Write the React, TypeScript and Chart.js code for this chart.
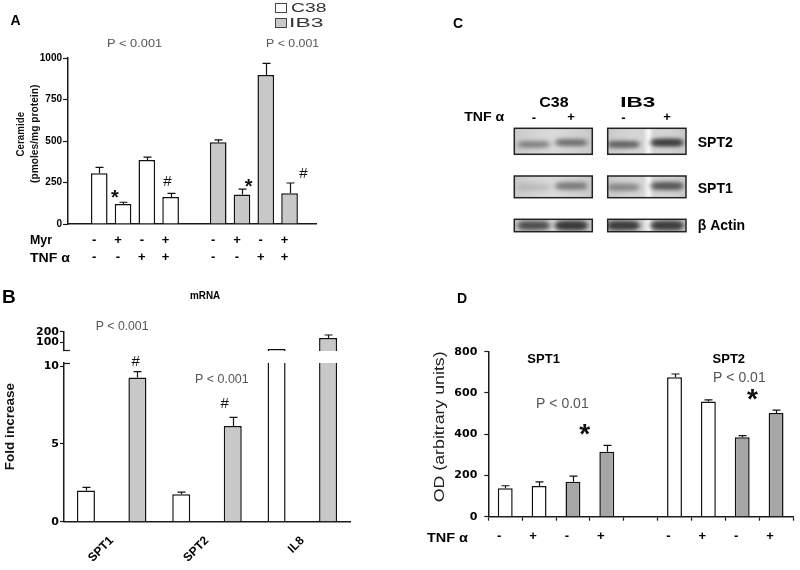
import React, { useEffect, useRef } from 'react';
import { Chart, registerables } from 'chart.js';

Chart.register(...registerables);

// ---------------- data ----------------
// Panel A: ceramide
const aCellLines = ['C38', 'IB3'];
const aMyr = ['-', '+', '-', '+'];
const aTnf = ['-', '-', '+', '+'];
const aC38 = [305, 120, 385, 162];
const aC38Err = [36, 11, 18, 23];
const aIB3 = [493, 177, 898, 185];
const aIB3Err = [14, 33, 70, 62];
const aYTicks = [0, 250, 500, 750, 1000];

// Panel B: mRNA fold increase
const bGenes = ['SPT1', 'SPT2', 'IL8'];
const bC38 = [2.0, 1.76, 37];
const bC38Err = [0.2, 0.14, 0];
const bIB3 = [9.27, 6.15, 140];
const bIB3Err = [0.37, 0.55, 29];
const bLowTicks = [0, 5, 10];
const bHighTicks = [100, 200];

// Panel C: western blot band intensities [row][lane]
const cProteins = ['SPT2', 'SPT1', 'β Actin'];
const cTnf = ['-', '+'];
const cC38Bands = [[0.32, 0.42], [0.08, 0.34], [0.6, 0.82]];
const cIB3Bands = [[0.5, 0.82], [0.28, 0.55], [0.78, 0.78]];

// Panel D: densitometry
const dProteins = ['SPT1', 'SPT2'];
const dTnf = ['-', '+', '-', '+'];
const dCells = ['C38', 'C38', 'IB3', 'IB3'];
const dSPT1 = [138, 149, 170, 315];
const dSPT1Err = [12, 20, 27, 31];
const dSPT2 = [676, 558, 385, 503];
const dSPT2Err = [16, 8, 8, 14];
const dYTicks = [0, 200, 400, 600, 800];

// ---------------- style ----------------
const SANS = '"Liberation Sans", Arial, Helvetica, sans-serif';
const WIDE = '"DejaVu Sans", Verdana, sans-serif';
const fnt = (size: number, bold = false, fam = SANS) => `${bold ? 'bold ' : ''}${size}px ${fam}`;
const AXIS = '#1a1a1a';
const WHITE = '#ffffff';
const LIGHT = '#c8c8c8';
const DARK = '#a6a6a6';
const PTXT = '#555555';

function putText(ctx: any, text: string, x: number, y: number, font: string, color = '#000', opts: any = {}) {
  ctx.save();
  ctx.font = font;
  ctx.fillStyle = color;
  ctx.textAlign = 'left';
  ctx.textBaseline = 'alphabetic';
  const m = ctx.measureText(text);
  const gw = m.actualBoundingBoxLeft + m.actualBoundingBoxRight;
  const sx = opts.w && gw > 0 ? opts.w / gw : 1;
  ctx.translate(x, y);
  if (opts.rot) ctx.rotate(opts.rot);
  ctx.scale(sx, 1);
  const x0 = opts.left ? m.actualBoundingBoxLeft : -(m.actualBoundingBoxRight - m.actualBoundingBoxLeft) / 2;
  const y0 = (m.actualBoundingBoxAscent - m.actualBoundingBoxDescent) / 2;
  ctx.fillText(text, x0, y0);
  ctx.restore();
}

const errorBars = {
  id: 'errorBars',
  afterDatasetsDraw(chart: any) {
    const ctx = chart.ctx;
    const a = chart.chartArea;
    ctx.save();
    ctx.beginPath();
    ctx.rect(a.left - 10, a.top - 1, a.right - a.left + 20, a.bottom - a.top + 1);
    ctx.clip();
    ctx.strokeStyle = '#111';
    ctx.lineWidth = 1.2;
    chart.data.datasets.forEach((ds: any, di: number) => {
      const errs = ds.errors;
      if (!errs) return;
      const meta = chart.getDatasetMeta(di);
      const yScale = chart.scales[meta.yAxisID];
      meta.data.forEach((el: any, i: number) => {
        const e = errs[i];
        const p = meta.controller.getParsed(i);
        if (!e || !p || p.y == null || isNaN(p.y)) return;
        const yTop = yScale.getPixelForValue(p.y + e);
        const x = Math.round(el.x) + 0.5;
        ctx.beginPath();
        ctx.moveTo(x, el.y);
        ctx.lineTo(x, yTop);
        ctx.moveTo(x - 4, yTop);
        ctx.lineTo(x + 4, yTop);
        ctx.stroke();
      });
    });
    ctx.restore();
  },
};

const fixY = (w: number) => (s: any) => {
  s.width = w; s.paddingTop = 0; s.paddingBottom = 0; s.paddingLeft = 0; s.paddingRight = 0;
};
const fixX = (h: number) => (s: any) => {
  s.height = h; s.paddingTop = 0; s.paddingBottom = 0; s.paddingLeft = 0; s.paddingRight = 0;
};
const setTicks = (vals: number[]) => (s: any) => {
  s.ticks = vals.map((v) => ({ value: v }));
};

const common: any = {
  responsive: false,
  animation: false,
  devicePixelRatio: 1,
  events: [],
  plugins: { legend: { display: false }, tooltip: { enabled: false }, title: { display: false } },
};

const yAxis = (min: number, max: number, ticks: number[], font: any, pad: number, tl: number) => ({
  min,
  max,
  afterBuildTicks: setTicks(ticks),
  afterFit: fixY(40),
  ticks: { padding: pad, color: '#000', font, autoSkip: false, callback: (v: any) => `${v}` },
  grid: { display: true, drawOnChartArea: false, drawTicks: true, tickLength: tl, color: AXIS, tickWidth: 1.2 },
  border: { display: true, color: AXIS, width: 1.5 },
});

const barStyle = { borderColor: '#111', borderWidth: 1.5 };

// ---------------- panel A ----------------
const aXs = [...aC38.map((_, i) => i), ...aIB3.map((_, i) => i + aC38.length + 1)];
const aMyrAll = [...aMyr, ...aMyr];
const aTnfAll = [...aTnf, ...aTnf];

const annotA = {
  id: 'annotA',
  afterDraw(chart: any) {
    const ctx = chart.ctx;
    putText(ctx, 'A', 15.5, 20, fnt(14, true));
    const legW = [36, 33];
    chart.data.datasets.forEach((ds: any, i: number) => {
      const y = 3 + i * 15;
      ctx.save();
      ctx.fillStyle = ds.backgroundColor;
      ctx.fillRect(275, y, 11, 9);
      ctx.strokeStyle = '#444';
      ctx.lineWidth = 1;
      ctx.strokeRect(275.5, y + 0.5, 11, 9);
      ctx.restore();
      putText(ctx, ds.label, 291, y + 4.5, fnt(12), '#333', { w: legW[i], left: true });
    });
    putText(ctx, 'P < 0.001', 134.5, 43, fnt(11), PTXT, { w: 55 });
    putText(ctx, 'P < 0.001', 292.5, 43, fnt(11), PTXT, { w: 53 });
    putText(ctx, '*', 115, 193.7, fnt(20, true), '#111', { w: 8 });
    putText(ctx, '*', 248.8, 182.5, fnt(20, true), '#111', { w: 8 });
    putText(ctx, '#', 167.8, 180.5, fnt(15), '#111');
    putText(ctx, '#', 303.7, 172.5, fnt(15), '#111');
    putText(ctx, 'Ceramide', 20, 134, fnt(10, true), '#111', { w: 45, rot: -Math.PI / 2 });
    putText(ctx, '(pmoles/mg protein)', 34.7, 134, fnt(10, true), '#111', { w: 98, rot: -Math.PI / 2 });
    putText(ctx, 'Myr', 41, 240.5, fnt(13, true), '#000', { w: 22 });
    putText(ctx, 'TNF α', 50, 257.5, fnt(13, true), '#000', { w: 40 });
  },
};

// ---------------- panel B ----------------
const annotB = {
  id: 'annotB',
  afterDraw(chart: any) {
    const ctx = chart.ctx;
    putText(ctx, 'B', 9, 296, fnt(19, true));
    putText(ctx, 'mRNA', 205, 294.7, fnt(10, true), '#000', { w: 30 });
    putText(ctx, 'P < 0.001', 122.3, 325.8, fnt(12), PTXT, { w: 53 });
    putText(ctx, 'P < 0.001', 222, 378.3, fnt(12), PTXT, { w: 54 });
    putText(ctx, '#', 136, 360.5, fnt(15), '#111');
    putText(ctx, '#', 225, 402.5, fnt(15), '#111');
    putText(ctx, 'Fold increase', 9.5, 426.7, fnt(13, true), '#111', { w: 87, rot: -Math.PI / 2 });
    const a = chart.chartArea;
    ctx.save();
    ctx.strokeStyle = AXIS;
    ctx.lineWidth = 1.2;
    ctx.beginPath();
    ctx.moveTo(a.left - 1, a.top + 0.5);
    ctx.lineTo(a.left + 6, a.top + 0.5);
    ctx.stroke();
    ctx.restore();
  },
};

const capB = {
  id: 'capB',
  afterDraw(chart: any) {
    const ctx = chart.ctx;
    const a = chart.chartArea;
    ctx.save();
    ctx.strokeStyle = AXIS;
    ctx.lineWidth = 1.2;
    ctx.beginPath();
    ctx.moveTo(a.left - 1, a.bottom - 0.5);
    ctx.lineTo(a.left + 6, a.bottom - 0.5);
    ctx.stroke();
    ctx.restore();
  },
};

const bDatasets = () => [
  { label: 'C38', data: bC38, errors: bC38Err, backgroundColor: WHITE, ...barStyle, categoryPercentage: 1.08, barPercentage: 0.35, clip: 0 },
  { label: 'IB3', data: bIB3, errors: bIB3Err, backgroundColor: LIGHT, ...barStyle, categoryPercentage: 1.08, barPercentage: 0.35, clip: 0 },
];

// ---------------- panel C ----------------
const BLOT_ROWS = [
  { top: 128.3, h: 26, rel: [0.62, 0.55], band: 6 },
  { top: 176, h: 21.7, rel: [0.52, 0.46], band: 7 },
  { top: 219.3, h: 12.4, rel: [0.5, 0.5], band: 8 },
];
const BLOT_PANELS = [
  { left: 514.3, w: 78, lanes: [0.25, 0.73], streak: false },
  { left: 607.7, w: 78.3, lanes: [0.2, 0.76], streak: true },
];

const blotPlugin = {
  id: 'blot',
  afterDraw(chart: any) {
    const ctx = chart.ctx;
    const bands = [cC38Bands, cIB3Bands];
    putText(ctx, 'C', 458, 23, fnt(14, true));
    putText(ctx, 'C38', 553.8, 102, fnt(15, true), '#000', { w: 29 });
    putText(ctx, 'IB3', 638.3, 102, fnt(15, true), '#000', { w: 33 });
    putText(ctx, 'TNF α', 484.2, 116.5, fnt(13, true), '#000', { w: 40 });
    BLOT_PANELS.forEach((p, pi) => {
      p.lanes.forEach((lc, li) => {
        const sign = cTnf[li];
        putText(ctx, sign, p.left + p.w * lc, sign === '+' ? 116.5 : 118, fnt(13, true));
      });
      BLOT_ROWS.forEach((r, ri) => {
        const x = p.left;
        const y = r.top;
        ctx.save();
        ctx.beginPath();
        ctx.rect(x, y, p.w, r.h);
        ctx.clip();
        const g = ctx.createLinearGradient(x, 0, x + p.w, 0);
        g.addColorStop(0, '#cacaca');
        g.addColorStop(0.3, '#d6d6d6');
        if (p.streak) {
          g.addColorStop(0.45, '#d4d4d4');
          g.addColorStop(0.52, '#f7f7f7');
          g.addColorStop(0.59, '#d4d4d4');
        } else {
          g.addColorStop(0.5, '#dadada');
        }
        g.addColorStop(0.8, '#d2d2d2');
        g.addColorStop(1, '#c8c8c8');
        ctx.fillStyle = g;
        ctx.fillRect(x, y, p.w, r.h);
        ctx.filter = 'blur(2px)';
        p.lanes.forEach((lc, li) => {
          const I = bands[pi][ri][li];
          const cx = x + p.w * lc;
          const lw = p.w * 0.46;
          const cy = y + r.h * r.rel[li];
          ctx.fillStyle = `rgba(50,50,50,${I})`;
          ctx.beginPath();
          ctx.ellipse(cx, cy, lw / 2, r.band / 2, 0, 0, Math.PI * 2);
          ctx.fill();
          ctx.fillRect(cx - lw / 2 + 4, cy - r.band / 2, lw - 8, r.band);
        });
        ctx.filter = 'none';
        ctx.restore();
        ctx.save();
        ctx.strokeStyle = '#222';
        ctx.lineWidth = 1.5;
        ctx.strokeRect(x, y, p.w, r.h);
        ctx.restore();
      });
    });
    const labelY = [141.7, 188.3, 226];
    cProteins.forEach((name, i) => {
      putText(ctx, name, 697.7, labelY[i], fnt(14, true), '#000', { left: true });
    });
  },
};

// ---------------- panel D ----------------
const dLabels = [...dTnf, '', ...dTnf];
const dValues = [...dSPT1, null, ...dSPT2];
const dErrs = [...dSPT1Err, 0, ...dSPT2Err];
const dColors = [...dCells, '', ...dCells].map((c) => (c === 'IB3' ? DARK : WHITE));

const annotD = {
  id: 'annotD',
  afterDraw(chart: any) {
    const ctx = chart.ctx;
    putText(ctx, 'D', 462, 298, fnt(14, true));
    putText(ctx, dProteins[0], 543.5, 358.7, fnt(13, true));
    putText(ctx, dProteins[1], 728.7, 358.7, fnt(13, true));
    putText(ctx, 'P < 0.01', 563, 403.3, fnt(14), PTXT);
    putText(ctx, 'P < 0.01', 740, 377.2, fnt(14), PTXT);
    putText(ctx, '*', 584.7, 429.5, fnt(28, true), '#111', { w: 11 });
    putText(ctx, '*', 752.5, 394.2, fnt(28, true), '#111', { w: 11 });
    putText(ctx, 'OD (arbitrary units)', 440, 427.2, fnt(14), '#222', { w: 150, rot: -Math.PI / 2 });
    putText(ctx, 'TNF α', 447.5, 537.5, fnt(13, true), '#000', { w: 41 });
  },
};

export default function App() {
  const refA = useRef<HTMLCanvasElement>(null);
  const refBh = useRef<HTMLCanvasElement>(null);
  const refBl = useRef<HTMLCanvasElement>(null);
  const refC = useRef<HTMLCanvasElement>(null);
  const refD = useRef<HTMLCanvasElement>(null);

  useEffect(() => {
    Chart.defaults.font.family = SANS;
    Chart.defaults.color = '#000';
    const charts: any[] = [];

    charts.push(
      new Chart(refA.current as any, {
        type: 'bar',
        data: {
          datasets: [
            { label: aCellLines[0], data: aC38.map((y, i) => ({ x: aXs[i], y })), errors: aC38Err, backgroundColor: WHITE, ...barStyle, grouped: false, barPercentage: 0.7, categoryPercentage: 1 } as any,
            { label: aCellLines[1], data: aIB3.map((y, i) => ({ x: aXs[i + aC38.length], y })), errors: aIB3Err, backgroundColor: LIGHT, ...barStyle, grouped: false, barPercentage: 0.7, categoryPercentage: 1 } as any,
          ],
        },
        options: {
          ...common,
          layout: { padding: { left: 28, top: 58, right: 484, bottom: 290 } },
          scales: {
            x: {
              type: 'linear',
              min: -0.662,
              max: 8.46,
              afterBuildTicks: setTicks(aXs),
              afterFit: fixX(56),
              ticks: {
                autoSkip: false,
                maxRotation: 0,
                minRotation: 0,
                padding: 8.5,
                labelOffset: -5,
                color: '#000',
                font: { family: SANS, size: 13, weight: 'bold', lineHeight: 1.27 },
                callback: (v: any) => {
                  const i = aXs.indexOf(v);
                  return i < 0 ? '' : [aMyrAll[i], aTnfAll[i]];
                },
              },
              grid: { display: false, drawTicks: false },
              border: { display: true, color: AXIS, width: 1.5 },
            },
            y: yAxis(0, 1000, aYTicks, { family: SANS, size: 10, weight: 'bold' }, 1, 5),
          },
        } as any,
        plugins: [errorBars, annotA] as any,
      })
    );

    charts.push(
      new Chart(refBh.current as any, {
        type: 'bar',
        data: { labels: bGenes, datasets: bDatasets() as any },
        options: {
          ...common,
          layout: { padding: { left: 24, top: 331.7, right: 450, bottom: 219 } },
          scales: {
            x: { display: false },
            y: yAxis(18, 200, bHighTicks, { family: WIDE, size: 11, weight: 'bold' }, 1, 4),
          },
        } as any,
        plugins: [errorBars, capB] as any,
      })
    );

    charts.push(
      new Chart(refBl.current as any, {
        type: 'bar',
        data: { labels: bGenes, datasets: bDatasets() as any },
        options: {
          ...common,
          layout: { padding: { left: 24, top: 363, right: 450, bottom: 0 } },
          scales: {
            x: {
              afterFit: fixX(48.3),
              ticks: { autoSkip: false, maxRotation: 45, minRotation: 45, padding: 12, color: '#000', font: { family: SANS, size: 12, weight: 'bold' } },
              grid: { display: false, drawTicks: false },
              border: { display: true, color: AXIS, width: 1.5 },
            },
            y: yAxis(0, 10.2, bLowTicks, { family: WIDE, size: 11, weight: 'bold' }, 1, 4),
          },
        } as any,
        plugins: [errorBars, annotB] as any,
      })
    );

    charts.push(
      new Chart(refC.current as any, {
        type: 'bar',
        data: { labels: [], datasets: [] },
        options: { ...common, scales: { x: { display: false }, y: { display: false } } } as any,
        plugins: [blotPlugin] as any,
      })
    );

    charts.push(
      new Chart(refD.current as any, {
        type: 'bar',
        data: {
          labels: dLabels,
          datasets: [
            { label: 'OD', data: dValues, errors: dErrs, backgroundColor: dColors, ...barStyle, barPercentage: 0.44, categoryPercentage: 1 } as any,
          ],
        },
        options: {
          ...common,
          layout: { padding: { left: 448.3, top: 351.7, right: 7, bottom: 0 } },
          scales: {
            x: {
              afterFit: fixX(53.3),
              ticks: { autoSkip: false, maxRotation: 0, minRotation: 0, padding: 8, labelOffset: -6, color: '#000', font: { family: SANS, size: 13, weight: 'bold' } },
              grid: { display: true, drawOnChartArea: false, drawTicks: true, tickLength: 4, color: AXIS, tickWidth: 1.2, offset: true },
              border: { display: true, color: AXIS, width: 1.5 },
            },
            y: yAxis(0, 800, dYTicks, { family: WIDE, size: 11, weight: 'bold' }, 7, 4),
          },
        } as any,
        plugins: [errorBars, annotD] as any,
      })
    );

    return () => charts.forEach((c) => c.destroy());
  }, []);

  const cv: React.CSSProperties = { position: 'absolute', left: 0, top: 0, width: 800, height: 570 };
  return (
    <div style={{ position: 'absolute', left: 0, top: 0, width: 800, height: 570, background: '#fff', overflow: 'hidden' }}>
      <canvas ref={refC} width={800} height={570} style={cv} />
      <canvas ref={refA} width={800} height={570} style={cv} />
      <canvas ref={refBl} width={800} height={570} style={cv} />
      <canvas ref={refBh} width={800} height={570} style={cv} />
      <canvas ref={refD} width={800} height={570} style={cv} />
    </div>
  );
}
